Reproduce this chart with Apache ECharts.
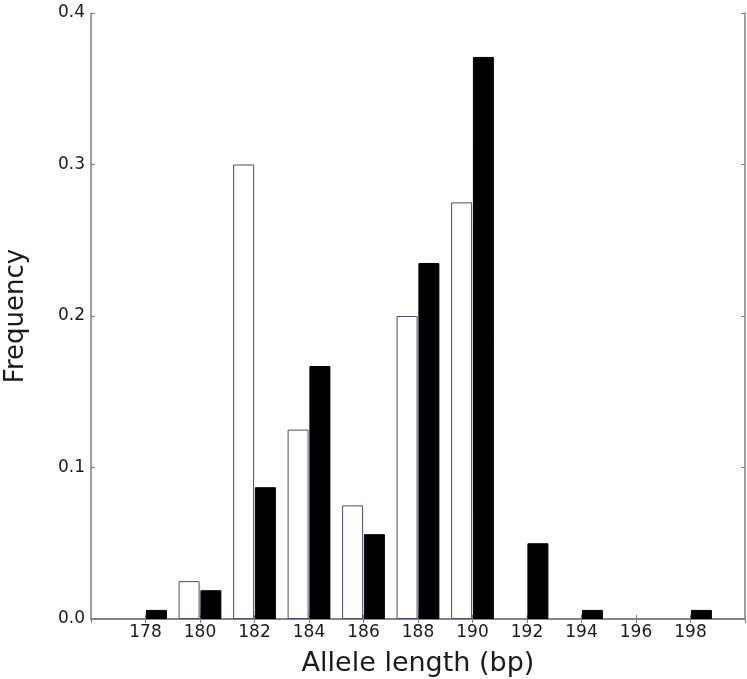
<!DOCTYPE html>
<html>
<head>
<meta charset="utf-8">
<script src="https://cdn.jsdelivr.net/npm/echarts@6/dist/echarts.min.js"></script>
<style>
  html, body { margin: 0; padding: 0; background: #fff; }
  #chart { width: 747px; height: 679px; }
</style>
</head>
<body>
<div id="chart"></div>
<script>
  // allele lengths (bp) and frequencies
  var alleles = [178, 180, 182, 184, 186, 188, 190, 192, 194, 196, 198];
  var openFreq = [0, 0.025, 0.300, 0.125, 0.075, 0.200, 0.275, 0, 0, 0, 0];
  var filledFreq = [0.006, 0.019, 0.087, 0.167, 0.056, 0.235, 0.371, 0.050, 0.006, 0, 0.006];

  var halfBar = 0.4; // bars sit either side of the allele value

  var chart = echarts.init(document.getElementById('chart'));

  var tickFont = { fontFamily: 'DejaVu Sans', fontSize: 17, color: '#1a1a1a' };
  var frameLine = { lineStyle: { color: '#7f7f7f', width: 1.5 } };

  // empty bars would show up as a line on the axis, so drop them
  function toBars(values, shift) {
    return alleles.map(function (a, i) {
      return [a + shift, values[i] === 0 ? null : values[i]];
    });
  }

  chart.setOption({
    animation: false,
    grid: { left: 91, top: 13, right: 2, bottom: 60, containLabel: false, outerBoundsMode: 'none' },
    xAxis: [{
      type: 'value',
      min: 176, max: 200, interval: 2,
      axisLine: frameLine,
      axisTick: { inside: true, length: 4, lineStyle: { color: '#7f7f7f' } },
      splitLine: { show: false },
      axisLabel: Object.assign({ margin: 5, showMinLabel: false, showMaxLabel: false }, tickFont),
      name: 'Allele length (bp)',
      nameLocation: 'middle',
      nameGap: 31,
      nameTextStyle: { fontFamily: 'DejaVu Sans', fontSize: 27, color: '#1a1a1a' }
    }, {
      type: 'value', position: 'top',
      min: 176, max: 200, interval: 2,
      axisLine: frameLine,
      axisTick: { inside: true, length: 4, lineStyle: { color: '#7f7f7f' } },
      axisLabel: { show: false },
      splitLine: { show: false }
    }],
    yAxis: [{
      type: 'value',
      min: 0, max: 0.4, interval: 0.1,
      axisLine: { show: true, lineStyle: { color: '#7f7f7f', width: 1.5 } },
      axisTick: { show: true, inside: true, length: 4, lineStyle: { color: '#7f7f7f' } },
      splitLine: { show: false },
      axisLabel: Object.assign({ margin: 6, formatter: function (v) { return v.toFixed(1); } }, tickFont),
      name: 'Frequency',
      nameLocation: 'middle',
      nameGap: 62,
      nameTextStyle: { fontFamily: 'DejaVu Sans', fontSize: 26, color: '#1a1a1a' }
    }, {
      type: 'value', position: 'right',
      min: 0, max: 0.4, interval: 0.1,
      axisLine: { show: true, lineStyle: { color: '#7f7f7f', width: 1.5 } },
      axisTick: { show: true, inside: true, length: 4, lineStyle: { color: '#7f7f7f' } },
      axisLabel: { show: false },
      splitLine: { show: false }
    }],
    series: [{
      type: 'bar',
      barWidth: 21,
      barGap: '-100%',
      itemStyle: { color: '#ffffff', borderColor: '#4b4b78', borderWidth: 1 },
      data: toBars(openFreq, -halfBar)
    }, {
      type: 'bar',
      barWidth: 21,
      barGap: '-100%',
      itemStyle: { color: '#000000', borderColor: '#000000', borderWidth: 1 },
      data: toBars(filledFreq, halfBar)
    }]
  });
</script>
</body>
</html>
